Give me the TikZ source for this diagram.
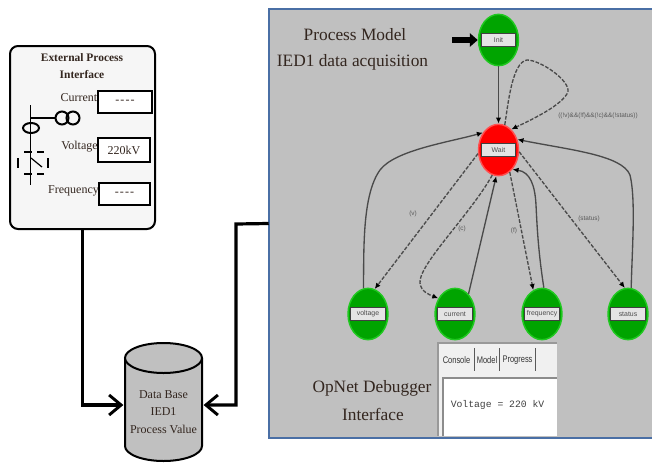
\documentclass[tikz,border=0pt]{standalone}
\usepackage{fontspec}
\setmainfont{Liberation Serif}
\setsansfont{Liberation Sans}
\setmonofont{Liberation Mono}
\newfontfamily\tabfont[FakeStretch=0.78]{Liberation Sans}
\usetikzlibrary{shapes.geometric,arrows.meta,calc}
\definecolor{panelgray}{HTML}{C0C0C0}
\definecolor{panelblue}{HTML}{4A6FA5}
\definecolor{stategreen}{HTML}{00A400}
\definecolor{ringgreen}{HTML}{20C820}
\definecolor{statered}{HTML}{FF0000}
\definecolor{ringred}{HTML}{FF5050}
\definecolor{wire}{HTML}{4A4A4A}
\definecolor{wintab}{HTML}{F0F0F0}
\definecolor{tagfill}{HTML}{E4E4E4}
\definecolor{inkdark}{HTML}{33261F}
\newcommand{\blankvalue}{-{\kern.8pt}-{\kern.8pt}-{\kern.8pt}-}
\tikzset{
  x=0.75pt,y=-0.75pt,
  heavy/.style={line width=2.4pt,draw=black,line join=miter},
  heavytip/.style={heavy,-{Straight Barb[length=9pt,width=15pt,line width=2.2pt]}},
  stateshape/.style={ellipse,minimum width=30pt,minimum height=38.5pt,inner sep=0pt,line width=1.1pt},
  greenstate/.style={stateshape,fill=stategreen,draw=ringgreen},
  redstate/.style={stateshape,fill=statered,draw=ringred},
  tagbox/.style={rectangle,draw=black!75,fill=tagfill,line width=0.6pt,minimum width=26pt,minimum height=10pt,inner sep=0pt,font=\sffamily\fontsize{5.2}{6}\selectfont,text=black!70},
  solidedge/.style={draw=wire,line width=1pt,-{Latex[length=4.5pt,width=4pt,black]}},
  dashedge/.style={draw=wire,line width=1pt,dashed,dash pattern=on 2.8pt off 1.2pt,-{Latex[length=4.5pt,width=4pt,black]}},
  edgelabel/.style={font=\sffamily\fontsize{4.8}{5}\selectfont,text=black!65,inner sep=0pt},
  titletext/.style={font=\fontsize{13}{15}\selectfont,text=inkdark,inner sep=0pt},
  smalltext/.style={font=\fontsize{9}{10}\selectfont,text=inkdark,inner sep=0pt},
  valuebox/.style={rectangle,draw=black,fill=white,line width=1.3pt,inner sep=0pt,font=\fontsize{9}{10}\selectfont,text=inkdark},
  tabtext/.style={font=\tabfont\fontsize{7.2}{8}\selectfont,text=black!80,inner sep=0pt},
}
\begin{document}
\begin{tikzpicture}
\useasboundingbox (0,0) rectangle (652,464);
\fill[white] (0,0) rectangle (652,464);

% process-model panel
\node[fill=panelgray,minimum width=287.25pt,minimum height=321.75pt,inner sep=0pt] (panel) at (460.5,223.5) {};
\draw[panelblue,line width=1.4pt] (652,9) -- (269,9) -- (269,438) -- (652,438);

% external interface box
\node[rectangle,rounded corners=6pt,draw=black,fill=wintab!60,line width=1.5pt,minimum width=108.75pt,minimum height=137.25pt,inner sep=0pt] (ext) at (82.5,137.5) {};
\node[font=\bfseries\fontsize{8.6}{13}\selectfont,text=inkdark,align=center,inner sep=0pt] (exttitle) at (82,66) {External Process\\Interface};
\node[smalltext] (curlab) at (79,98) {Current};
\node[smalltext] (vollab) at (79.5,147) {Voltage};
\node[smalltext] (frelab) at (73.5,191) {Frequency};
\node[valuebox,minimum width=40.5pt,minimum height=16.5pt] (curbox) at (125,102) {\blankvalue};
\node[valuebox,minimum width=39pt,minimum height=18pt] (volbox) at (124,150) {220kV};
\node[valuebox,minimum width=38pt,minimum height=16.5pt] (frebox) at (124.5,194) {\blankvalue};

% switchgear symbol
\draw[black,line width=0.8pt] (30.5,105) -- (30.5,185);
\draw[black,line width=1.1pt] (30.5,118) -- (55,118);
\draw[black,line width=1.5pt] (62,118) circle[radius=6.5];
\draw[black,line width=1.5pt] (73,118) circle[radius=6.5];
\draw[black,line width=1.5pt] (31,128) ellipse[x radius=8,y radius=5];
\draw[black,line width=1.5pt] (24,152) -- (32,152) (37,152) -- (44,152);
\draw[black,line width=1.5pt] (24,174) -- (32,174) (37,174) -- (44,174);
\draw[black,line width=1.5pt] (18,158) -- (18,168) (48,158) -- (48,168);
\draw[black,line width=0.9pt] (31,158) -- (42,167);

% database cylinder
\node[inner sep=0pt,minimum width=57.75pt,minimum height=88.5pt] (db) at (163.5,402) {};
\draw[black,line width=1.5pt,fill=panelgray] (125,358) -- (125,446) arc[start angle=180,end angle=360,x radius=38.5,y radius=-15] -- (202,358);
\draw[black,line width=1.5pt,fill=panelgray] (163.5,358) ellipse[x radius=38.5,y radius=15];
\node[font=\fontsize{9}{13}\selectfont,text=inkdark,align=center,inner sep=0pt] (dbtext) at (163.5,412) {Data Base\\IED1\\Process Value};

% thick connectors
\draw[heavytip] (ext.south) -- (82.5,405) -- ($(db.west)+(-1pt,-2.25pt)$);
\draw[heavytip] (panel.west) -- (236,224) -- (236,405) -- ($(db.east)+(1pt,-2.25pt)$);

% panel titles
\node[titletext] (pmtitle) at (355,35) {Process Model};
\node[titletext] (pmsub) at (352.5,62) {IED1 data acquisition};
\node[titletext] (dbgtitle) at (372,388) {OpNet Debugger};
\node[titletext] (dbgsub) at (373,414) {Interface};

% states
\node[greenstate] (init) at (498.5,40) {};
\node[redstate] (wait) at (498.5,150) {};
\node[greenstate] (voltage) at (368,314) {};
\node[greenstate] (current) at (455,314) {};
\node[greenstate] (frequency) at (542,314) {};
\node[greenstate] (status) at (628,314) {};
\node[tagbox] at (init) {Init};
\node[tagbox] at (wait) {Wait};
\node[tagbox] at (voltage) {voltage};
\node[tagbox] at (current) {current};
\node[tagbox] at (frequency) {frequency};
\node[tagbox] at (status) {status};

% entry arrow
\coordinate (entrystart) at (452,40);
\draw[black,line width=5.2pt,-{Triangle[length=6pt,width=10pt]}] (entrystart) -- (init.west);

% transitions
\draw[solidedge] (init) -- (wait);
\draw[dashedge] (wait.76) .. controls (508,105) and (512,62) .. (527,60) .. controls (540,60) and (570,80) .. (568,92) .. controls (562,105) and (535,118) .. (wait.58);
\draw[dashedge] (wait.190) -- (voltage.75);
\draw[solidedge] (voltage.100) .. controls (364,250) and (362,195) .. (380,170) .. controls (395,150) and (450,142) .. (wait.132);
\draw[dashedge] (wait.256) .. controls (470,215) and (418,265) .. (420,283) .. controls (421,292) and (430,295) .. (current.137);
\draw[solidedge] (current.56) -- (wait.265);
\draw[dashedge] (wait.297) -- (frequency.110);
\draw[solidedge] (frequency.86) .. controls (538,250) and (537,225) .. (536,205) .. controls (535,185) and (530,172) .. (wait.306);
\draw[dashedge] (wait.355) -- (status.97);
\draw[solidedge] (status.83) .. controls (632,250) and (636,200) .. (630,175) .. controls (622,155) and (570,150) .. (wait.29);

% transition labels
\node[edgelabel] (lv) at (413,214) {(v)};
\node[edgelabel] (lc) at (462,229) {(c)};
\node[edgelabel] (lf) at (514,231) {(f)};
\node[edgelabel] (ls) at (589,219) {(status)};
\node[edgelabel] (lloop) at (598,116) {((!v)\&\&(!f)\&\&(!c)\&\&(!status))};

% debugger window
\fill[wintab] (438,343) rectangle (557,436);
\draw[black!40,line width=1pt] (438,436) -- (438,343) -- (557,343);
\fill[white] (443,378) rectangle (557,436);
\draw[black!45,line width=1pt] (443,436) -- (443,378) -- (557,378);
\node[tabtext] (tabc) at (456.5,360) {Console};
\node[tabtext] (tabm) at (487,360) {Model};
\node[tabtext] (tabp) at (517.5,360) {Progress};
\draw[black!65,line width=0.6pt] (474.5,348) -- (474.5,371) (499.5,348) -- (499.5,371) (535,348) -- (535,371);
\node[font=\ttfamily\fontsize{7.3}{9}\selectfont,text=black!75,inner sep=0pt] (console) at (497.5,405) {Voltage = 220 kV};
\end{tikzpicture}
\end{document}
